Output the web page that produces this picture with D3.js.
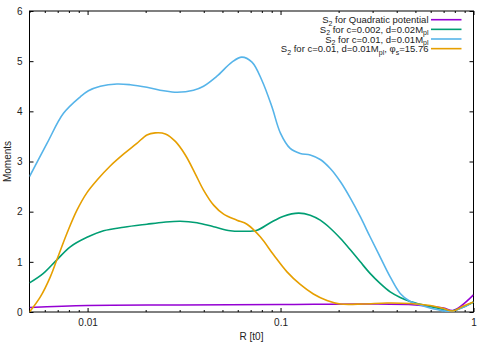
<!DOCTYPE html>
<html>
<head>
<meta charset="utf-8">
<script src="https://cdn.jsdelivr.net/npm/d3@7"></script>
<style>
  body { margin: 0; background: #fff; }
  text { font-family: "Liberation Sans", Arial, sans-serif; fill: #222; }
</style>
</head>
<body>
<div id="chart"></div>
<script>
// Valeurs (R en t0, moments S2)
const quadR = [0.005, 0.01, 0.03, 0.1, 0.3, 0.5, 0.7, 0.785, 1];
const quadS = [0.09, 0.13, 0.14, 0.15, 0.16, 0.14, 0.08, 0.03, 0.34];

const c002R = [0.005, 0.0059, 0.00693, 0.00813, 0.00993, 0.0121, 0.0154, 0.0203, 0.0248, 0.0302, 0.0369, 0.045, 0.0549, 0.0643, 0.0755, 0.0885, 0.1037, 0.124, 0.1425, 0.1606, 0.181, 0.204, 0.23, 0.259, 0.291, 0.328, 0.37, 0.417, 0.47, 0.55, 0.646, 0.773, 0.887, 1];
const c002S = [0.58, 0.77, 1.04, 1.30, 1.49, 1.62, 1.69, 1.75, 1.79, 1.81, 1.78, 1.70, 1.62, 1.61, 1.63, 1.78, 1.91, 1.97, 1.93, 1.83, 1.67, 1.47, 1.24, 1.00, 0.77, 0.57, 0.40, 0.29, 0.21, 0.14, 0.08, 0.02, 0.10, 0.20];

const c01R = [0.005, 0.00616, 0.0075, 0.00917, 0.0101, 0.01164, 0.0142, 0.01664, 0.0203, 0.0248, 0.0291, 0.0354, 0.0399, 0.0468, 0.056, 0.063, 0.0711, 0.0802, 0.0902, 0.1, 0.1122, 0.1265, 0.1425, 0.1606, 0.181, 0.204, 0.23, 0.259, 0.291, 0.328, 0.37, 0.417, 0.47, 0.55, 0.646, 0.773, 0.887, 1];
const c01S = [2.70, 3.36, 3.96, 4.29, 4.41, 4.50, 4.545, 4.53, 4.48, 4.41, 4.38, 4.42, 4.50, 4.70, 4.98, 5.08, 4.98, 4.61, 4.09, 3.56, 3.26, 3.16, 3.13, 3.04, 2.86, 2.60, 2.27, 1.90, 1.50, 1.10, 0.70, 0.37, 0.21, 0.12, 0.05, 0.01, 0.10, 0.20];

const phiR = [0.005, 0.00569, 0.00641, 0.00693, 0.00782, 0.00881, 0.00993, 0.0112, 0.0131, 0.0154, 0.018, 0.0203, 0.0224, 0.0253, 0.0285, 0.0321, 0.0361, 0.0399, 0.045, 0.0507, 0.0594, 0.067, 0.0785, 0.092, 0.108, 0.1265, 0.148, 0.174, 0.204, 0.269, 0.356, 0.47, 0.597, 0.70, 0.78, 0.887, 1];
const phiS = [0.0, 0.30, 0.70, 1.04, 1.57, 2.03, 2.38, 2.63, 2.91, 3.15, 3.36, 3.53, 3.57, 3.55, 3.40, 3.13, 2.76, 2.43, 2.13, 1.95, 1.83, 1.75, 1.50, 1.14, 0.80, 0.55, 0.36, 0.23, 0.16, 0.16, 0.18, 0.17, 0.13, 0.07, 0.02, 0.12, 0.20];

const yTicks = [0, 1, 2, 3, 4, 5, 6];
const xTicks = [0.01, 0.1, 1];
const xTickLabels = ["0.01", "0.1", "1"];

// Légende : [texte principal, indice...] sous forme de morceaux {t, sub}
const legendParts = [
    [{t: "S"}, {t: "2", sub: true}, {t: " for Quadratic potential"}],
    [{t: "S"}, {t: "2", sub: true}, {t: " for c=0.002, d=0.02M"}, {t: "pl", sub: true}],
    [{t: "S"}, {t: "2", sub: true}, {t: " for c=0.01, d=0.01M"}, {t: "pl", sub: true}],
    [{t: "S"}, {t: "2", sub: true}, {t: " for c=0.01, d=0.01M"}, {t: "pl", sub: true}, {t: ", φ"}, {t: "s", sub: true}, {t: "=15.76"}]
];
const colors = ["#9400d3", "#009e73", "#56b4e9", "#e69f00"];
const series = [[quadR, quadS], [c002R, c002S], [c01R, c01S], [phiR, phiS]];

const W = 491, H = 343;
const margin = { top: 11, right: 17.5, bottom: 31, left: 29.5 };

const svg = d3.select("#chart").append("svg")
    .attr("width", W).attr("height", H);

const x = d3.scaleLog().domain([0.005, 1]).range([margin.left, W - margin.right]);
const y = d3.scaleLinear().domain([0, 6]).range([H - margin.bottom, margin.top]);

// Graduations mineures pour l'axe log
const minor = [];
[0.001, 0.01, 0.1].forEach(dec => {
    for (let k = 2; k <= 9; k++) {
        const v = dec * k;
        if (v >= 0.005 && v <= 1) minor.push(v);
    }
});

// Axes (ticks vers l'intérieur, comme gnuplot)
const xb = svg.append("g").attr("transform", `translate(0,${y(0)})`)
    .call(d3.axisBottom(x).tickValues(xTicks).tickFormat((d, i) => xTickLabels[i]).tickSizeInner(-4).tickSizeOuter(0).tickPadding(7));
const xt = svg.append("g").attr("transform", `translate(0,${y(6)})`)
    .call(d3.axisTop(x).tickValues(xTicks).tickFormat("").tickSizeInner(-4).tickSizeOuter(0));
const xbm = svg.append("g").attr("transform", `translate(0,${y(0)})`)
    .call(d3.axisBottom(x).tickValues(minor).tickFormat("").tickSizeInner(-2).tickSizeOuter(0));
const xtm = svg.append("g").attr("transform", `translate(0,${y(6)})`)
    .call(d3.axisTop(x).tickValues(minor).tickFormat("").tickSizeInner(-2).tickSizeOuter(0));
const yl = svg.append("g").attr("transform", `translate(${x(0.005)},0)`)
    .call(d3.axisLeft(y).tickValues(yTicks).tickFormat(d3.format("d")).tickSizeInner(-4).tickSizeOuter(0).tickPadding(7));
const yr = svg.append("g").attr("transform", `translate(${x(1)},0)`)
    .call(d3.axisRight(y).tickValues(yTicks).tickFormat("").tickSizeInner(-4).tickSizeOuter(0));

[xb, xt, xbm, xtm, yl, yr].forEach(g => {
    g.select(".domain").remove();
    g.selectAll("line").attr("stroke", "#000");
    g.selectAll("text").style("font-size", "10px").attr("fill", "#222")
        .style("font-family", "'Liberation Sans', Arial, sans-serif");
});

// Cadre
svg.append("rect")
    .attr("x", x(0.005)).attr("y", y(6))
    .attr("width", x(1) - x(0.005)).attr("height", y(0) - y(6))
    .attr("fill", "none").attr("stroke", "#000").attr("stroke-width", 1);

// Courbes
const line = d3.line()
    .x(d => x(d[0])).y(d => y(d[1]))
    .curve(d3.curveCatmullRom.alpha(0.5));

svg.append("defs").append("clipPath").attr("id", "clip")
    .append("rect").attr("x", x(0.005)).attr("y", y(6) - 2)
    .attr("width", x(1) - x(0.005)).attr("height", y(0) - y(6) + 2);

series.forEach(([rs, ss], i) => {
    svg.append("path")
        .datum(rs.map((r, j) => [r, ss[j]]))
        .attr("clip-path", "url(#clip)")
        .attr("fill", "none")
        .attr("stroke", colors[i])
        .attr("stroke-width", 1.6)
        .attr("d", line);
});

// Légende
const legend = svg.append("g");
legendParts.forEach((parts, i) => {
    const ly = 19.7 + i * 9.65;
    const t = legend.append("text")
        .attr("x", 428.5).attr("y", ly + 3.5)
        .attr("text-anchor", "end")
        .style("font-size", "9.5px");
    parts.forEach(p => {
        const ts = t.append("tspan").text(p.t);
        if (p.sub) ts.attr("dy", 2.5).style("font-size", "7px");
        else ts.attr("dy", 0);
    });
    // recalage des dy après indices
    let shift = 0;
    t.selectAll("tspan").each(function(d, k) {
        const p = parts[k];
        const target = p.sub ? 2.5 : 0;
        d3.select(this).attr("dy", target - shift);
        shift = target;
    });
    legend.append("line")
        .attr("x1", 431).attr("x2", 461.5)
        .attr("y1", ly).attr("y2", ly)
        .attr("stroke", colors[i]).attr("stroke-width", 1.6);
});

// Titres d'axes
svg.append("text")
    .attr("x", (x(0.005) + x(1)) / 2).attr("y", 340)
    .attr("text-anchor", "middle").style("font-size", "10px")
    .text("R [t0]");
svg.append("text")
    .attr("transform", `translate(11,${(y(0) + y(6)) / 2}) rotate(-90)`)
    .attr("text-anchor", "middle").style("font-size", "10px")
    .text("Moments");
</script>
</body>
</html>
